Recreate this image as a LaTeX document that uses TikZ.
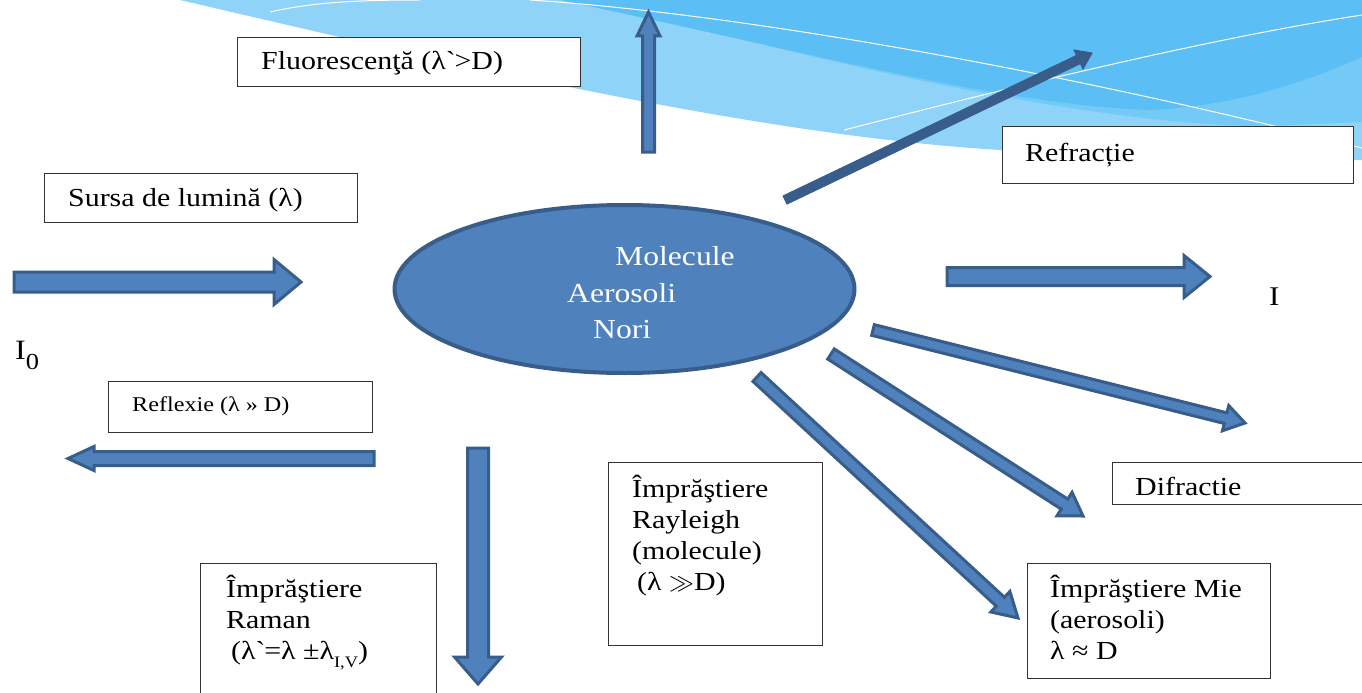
\documentclass[tikz,border=0pt]{standalone}
\usepackage{fontspec}
\setmainfont{Liberation Serif}[FakeStretch=1.15]
\usetikzlibrary{calc,shapes.geometric}
\definecolor{arrfill}{HTML}{4F81BD}
\definecolor{arrline}{HTML}{385D8A}
\definecolor{bgA}{HTML}{8FD4F8}
\definecolor{bgB}{HTML}{74CAF6}
\definecolor{bgC}{HTML}{5BBEF4}
\newcommand{\fsz}[1]{\fontsize{#1}{31}\selectfont}
% #1 style, #2 tail, #3 tip, #4 shaft half width, #5 head half width, #6 head length
\newcommand{\blockarrow}[6]{%
  \path ($(#3)!#6!(#2)$) coordinate (#2-h);
  \path[#1] ($(#2)!#4!90:(#3)$) -- ($(#2-h)!#4!90:(#3)$) -- ($(#2-h)!#5!90:(#3)$) -- (#3)
    -- ($(#2-h)!#5!-90:(#3)$) -- ($(#2-h)!#4!-90:(#3)$) -- ($(#2)!#4!-90:(#3)$) -- cycle;}
\tikzset{
  barrow/.style={fill=arrfill, draw=arrline, line width=3pt, line join=miter},
  sarrow/.style={fill=arrline, draw=arrline, line width=1pt, line join=miter},
  tbox/.style={draw=black!80, line width=1.3pt, fill=white, inner sep=0, anchor=north west},
  txt/.style={inner sep=0, anchor=base west, font=\fsz{26}},
  wline/.style={draw=white, line width=1pt},
  blob/.style={ellipse, fill=arrfill, draw=arrline, line width=4pt, inner sep=0,
    minimum width=460pt, minimum height=168pt}
}
\begin{document}
\begin{tikzpicture}[x=1pt,y=-1pt]
\useasboundingbox (0,0) rectangle (1362,693);
% background swoosh
\fill[bgA] (180,0) .. controls (480,70) and (760,135) .. (1000,150)
  .. controls (1150,160) and (1300,162) .. (1362,160) -- (1362,0) -- cycle;
\fill[bgB] (765,45) .. controls (900,78) and (1100,122) .. (1250,126)
  .. controls (1300,125) and (1340,123) .. (1362,122) -- (1362,0) -- (765,0) -- cycle;
\fill[bgC] (560,0) .. controls (800,50) and (1000,105) .. (1150,110)
  .. controls (1250,105) and (1320,75) .. (1362,57) -- (1362,0) -- cycle;
\path[wline] (270,12) .. controls (310,3) and (350,0) .. (420,0);
\path[wline] (530,0) .. controls (760,15) and (1100,80) .. (1362,148);
\path[wline] (844,130) .. controls (1000,90) and (1200,40) .. (1362,15);

% central ellipse
\node[blob] (cloud) at (624.5,289) {};
\node[txt, text=white, font=\fsz{27.5}] (mol) at (615,265) {Molecule};
\node[txt, text=white, font=\fsz{27.5}] (aer) at (567,302) {Aerosoli};
\node[txt, text=white, font=\fsz{27.5}] (nor) at (593,338) {Nori};

% arrow end points
\coordinate (inT) at (14,282);    \coordinate (inP) at (301,282);
\coordinate (outT) at (947,276.5); \coordinate (outP) at (1210,276.5);
\coordinate (refT) at (374,458.5); \coordinate (refP) at (68,458.5);
\coordinate (upT) at (648.5,152); \coordinate (upP) at (648.5,12);
\coordinate (dnT) at (478,448);   \coordinate (dnP) at (478,684);
\coordinate (dfT) at (873,330);   \coordinate (dfP) at (1245,423);
\coordinate (miT) at (831,354);   \coordinate (miP) at (1083,516);
\coordinate (raT) at (757,377);   \coordinate (raP) at (1018,618);
\coordinate (rfT) at (785,200);   \coordinate (rfP) at (1092,53);

\blockarrow{barrow}{inT}{inP}{10pt}{22.5pt}{27pt}
\blockarrow{barrow}{outT}{outP}{9pt}{21pt}{26pt}
\blockarrow{barrow}{refT}{refP}{7pt}{12pt}{26pt}
\blockarrow{barrow}{upT}{upP}{6pt}{11.5pt}{24pt}
\blockarrow{barrow}{dnT}{dnP}{10.5pt}{23.5pt}{27pt}
\blockarrow{barrow}{dfT}{dfP}{5.5pt}{13pt}{20pt}
\blockarrow{barrow}{miT}{miP}{6pt}{14pt}{22pt}
\blockarrow{barrow}{raT}{raP}{6pt}{14pt}{24pt}
\blockarrow{sarrow}{rfT}{rfP}{4.5pt}{10.5pt}{15pt}

% boxes
\node[tbox, minimum width=343pt, minimum height=49pt] (fluorbox) at (237,37) {};
\node[txt] (fluor) at (261,70) {Fluorescenţă (λ\textasciigrave>D)};

\node[tbox, minimum width=313pt, minimum height=49pt] (sursabox) at (44,173) {};
\node[txt] (sursa) at (68,206) {Sursa de lumină (λ)};

\node[tbox, minimum width=264pt, minimum height=51pt] (reflbox) at (108,381) {};
\node[txt, font=\fsz{21}] (refl) at (132,411) {Reflexie (λ » D)};

\node[tbox, minimum width=351pt, minimum height=57pt] (refrbox) at (1002,126) {};
\node[txt] (refr) at (1025,161) {Refracție};

\node[tbox, minimum width=270pt, minimum height=42pt] (difbox) at (1112,462) {};
\node[txt] (dif) at (1135,495) {Difractie};

\node[tbox, minimum width=214pt, minimum height=183pt] (raybox) at (608,462) {};
\node[txt] (ray) at (632,497) {\begin{tabular}[t]{@{}l@{}}Împrăştiere\\Rayleigh\\(molecule)\\\hspace*{5pt}(λ $\gg$D)\end{tabular}};

\node[tbox, minimum width=236pt, minimum height=140pt] (ramanbox) at (200,563) {};
\node[txt] (raman) at (226,597) {\begin{tabular}[t]{@{}l@{}}Împrăştiere\\Raman\\\hspace*{5pt}(λ\textasciigrave=λ ±λ\raisebox{-8pt}{\fontsize{16}{16}\selectfont I,V})\end{tabular}};

\node[tbox, minimum width=243pt, minimum height=115pt] (miebox) at (1027,563) {};
\node[txt] (mie) at (1050,597) {\begin{tabular}[t]{@{}l@{}}Împrăştiere Mie\\(aerosoli)\\λ ≈ D\end{tabular}};

% intensities
\node[txt, font=\fsz{28}] (I0) at (15,359) {I\raisebox{-10pt}{\fontsize{23}{23}\selectfont 0}};
\node[txt, font=\fsz{27}] (I) at (1269,305) {I};
\end{tikzpicture}
\end{document}
